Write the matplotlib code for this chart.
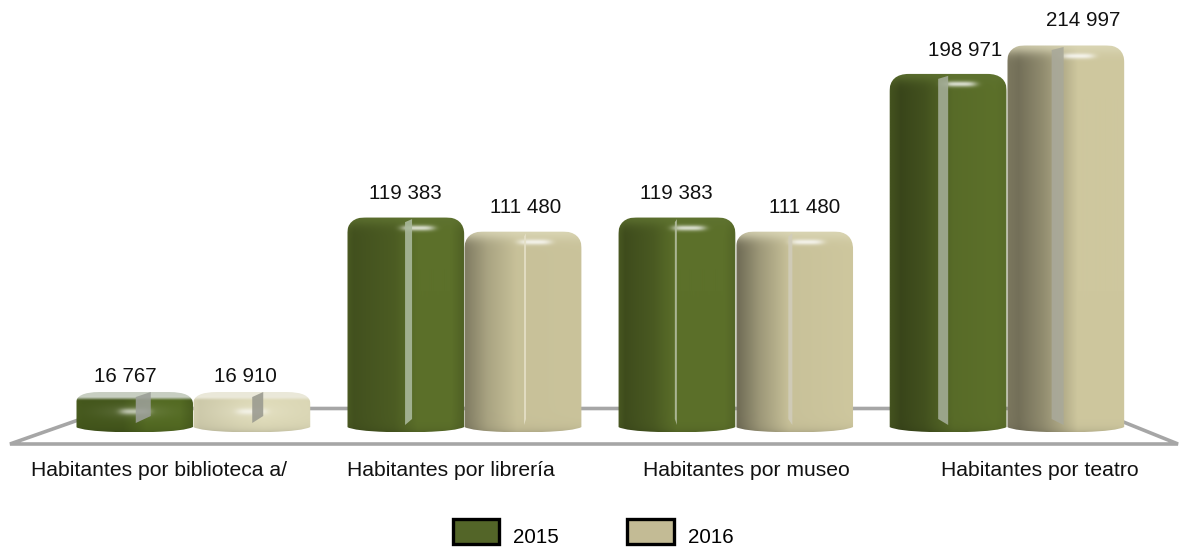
import numpy as np
import matplotlib
matplotlib.use("Agg")
import matplotlib.pyplot as plt
from matplotlib.path import Path
from matplotlib.patches import PathPatch, Polygon, Patch

plt.rcParams['font.family'] = ['Liberation Sans', 'DejaVu Sans']

categories = ["Habitantes por biblioteca a/", "Habitantes por librería",
              "Habitantes por museo", "Habitantes por teatro"]
series_names = ["2015", "2016"]
values_2015 = [16767, 119383, 119383, 198971]
values_2016 = [16910, 111480, 111480, 214997]

W, H = 1182, 549
PX_PER_CAT = 271.3
X0_PX = 193.0
Y0_PX = 432.0
PX_PER_VAL = 0.0018
BAR_W = 0.433
MIN_H_PX = 40

def xd(px): return (px - X0_PX) / PX_PER_CAT
def yd(py): return (Y0_PX - py) / PX_PER_VAL
def xp(x): return X0_PX + x * PX_PER_CAT
def yp(v): return Y0_PX - v * PX_PER_VAL

fig = plt.figure(figsize=(W / 100, H / 100), dpi=100)
ax = fig.add_axes([0, 0, 1, 1])
ax.axis("off")

# floor
floor = [(10, 444), (111, 408.5), (1090, 408.5), (1178, 444)]
ax.add_patch(Polygon([(xd(a), yd(b)) for a, b in floor], closed=True, fill=False,
                     edgecolor="#a6a6a6", lw=2.6, zorder=1))


def rgb(h):
    return np.array([int(h[i:i + 2], 16) for i in (1, 3, 5)]) / 255


COLS = {
    "2015": dict(main=rgb("#5c702a"), lid=rgb("#c8cfc2"), cap=rgb("#5f7331"), swatch="#536528",
                 body_small=rgb("#536a22"),
                 shade=[([0, .06, .4, .6, .88, 1], [.85, .82, .82, 1, 1, .85]),
                        ([0, .06, .4, .6, .88, 1], [.8, .72, .82, 1, 1, .85]),
                        ([0, .06, .3, .5, .9, 1], [.8, .68, .8, 1, 1, .9]),
                        ([0, .1, .3, .55, .9, 1], [.75, .62, .72, .96, 1, .95])]),
    "2016": dict(main=rgb("#cec79e"), lid=rgb("#ebe9da"), cap=rgb("#dcd8b8"), swatch="#c3bb95",
                 body_small=rgb("#dfdbb9"),
                 shade=[([0, .06, .4, .6, 1], [.95, .92, .98, 1, .98]),
                        ([0, .03, .2, .45, 1], [.62, .64, .82, .97, .98]),
                        ([0, .03, .2, .45, 1], [.55, .56, .76, .97, 1]),
                        ([0, .1, .3, .45, .6, 1], [.6, .56, .7, .84, 1, 1])]),
}
strip_w = {"2015": [15, 7, 2, 10], "2016": [11, 2, 4, 12]}
strip_off = {"2015": [9, 3, -1, -5], "2016": [6, 2, -4, -8]}
strip_col = {"2015": ["#9b9f97", "#a9b89b", "#b3bda0", "#a3ac96"],
             "2016": ["#9b9b90", "#e4dfc6", "#d0ccba", "#a9a99a"]}
foot_slant = [1, 1, -1, -1]
label_off = {"2015": [(-9, -15), (0, -24), (-1, -24), (17, -23)],
             "2016": [(-6, -15), (3, -24), (10, -24), (18, -25)]}


def bar_path(l, r, t, b, small):
    rx = 24 if small else 20
    ry = 12 if small else 18
    bot = 5
    P = [(l, b - bot), (l, t + ry), (l, t), (l + rx, t), (r - rx, t), (r, t), (r, t + ry),
         (r, b - bot), (r - 8, b - 1), (r - 40, b), (l + 40, b), (l + 8, b - 1), (l, b - bot), (l, b - bot)]
    C = [Path.MOVETO, Path.LINETO, Path.CURVE3, Path.CURVE3, Path.LINETO, Path.CURVE3, Path.CURVE3,
         Path.LINETO, Path.CURVE3, Path.CURVE3, Path.LINETO, Path.CURVE3, Path.CURVE3, Path.CLOSEPOLY]
    return Path([(xd(a), yd(c)) for a, c in P], C)


def texture(w, h, c, i, small):
    tt = (np.arange(w) + .5) / w
    yy = np.arange(h) + .5
    xs, sv = c["shade"][i]
    shade = np.interp(tt, xs, sv)
    img = np.ones((h, w, 4))
    base = c["body_small"] if small else c["main"]
    for k in range(3):
        img[:, :, k] = (base[k] * shade)[None, :]
    if small:
        vs = np.clip((yy - 6) / 3, 0, 1)[:, None]
        glow = np.exp(-((yy - 20) / 7) ** 2)[:, None] * np.exp(-((tt - .5) / .3) ** 2)[None, :]
        for k in range(3):
            img[:, :, k] += glow * (1 - img[:, :, k]) * .12
            img[:, :, k] = (1 - vs) * c["lid"][k] + vs * img[:, :, k]
        hl = np.exp(-((yy - 20) / 3) ** 2)[:, None] * np.exp(-(np.abs(tt - .5) / .13) ** 4)[None, :]
        amt = .6
    else:
        cap = np.exp(-(yy / 9) ** 2)[:, None]
        for k in range(3):
            img[:, :, k] = img[:, :, k] * (1 - .8 * cap) + .8 * cap * c["cap"][k]
        hl = np.exp(-((yy - 11) / 2.8) ** 2)[:, None] * np.exp(-(np.abs(tt - .6) / .14) ** 4)[None, :]
        amt = .75
    for k in range(3):
        img[:, :, k] += hl * (1 - img[:, :, k]) * amt
    foot = np.exp(-(h - yy) / 4)[:, None] * .12
    for k in range(3):
        img[:, :, k] = img[:, :, k] * (1 - foot)
    # soft edges
    px = np.arange(w) + .5
    ed = np.clip(np.minimum(px, w - px) / 1.2, .5, 1)
    img[:, :, 3] = ed[None, :] * np.clip(yy / 1.5, .5, 1)[:, None]
    return np.clip(img, 0, 1)


for si, (name, vals) in enumerate(zip(series_names, [values_2015, values_2016])):
    c = COLS[name]
    xs = np.arange(len(vals)) + (si - .5) * BAR_W
    bars = ax.bar(xs, vals, BAR_W, color="none", edgecolor="none", zorder=2 + si)
    for i, (rect, v) in enumerate(zip(bars, vals)):
        l = xp(rect.get_x())
        r = xp(rect.get_x() + rect.get_width())
        top_v = yp(v)
        small = Y0_PX - top_v < MIN_H_PX
        t = min(top_v, Y0_PX - MIN_H_PX)
        b = Y0_PX
        pth = bar_path(l, r, t, b, small)
        clip = PathPatch(pth, transform=ax.transData, fc="none", ec="none")
        ax.add_patch(clip)
        w, h = int(round(r - l)), int(round(b - t))
        im = ax.imshow(texture(w, h, c, i, small), extent=(xd(l), xd(r), yd(b), yd(t)),
                       aspect="auto", zorder=2.1 + si, interpolation="bilinear")
        im.set_clip_path(clip)
        # reflective strip
        cx = (l + r) / 2 + strip_off[name][i]
        sw = strip_w[name][i]
        s = foot_slant[i]
        if small:
            poly = [(cx - sw / 2, t + 5), (cx + sw / 2, t), (cx + sw / 2, b - 16), (cx - sw / 2, b - 9)]
        else:
            base_y = b - 10
            poly = [(cx - sw / 2, t + 5), (cx + sw / 2, t + 2),
                    (cx + sw / 2, base_y - 3 * s), (cx - sw / 2, base_y + 3 * s)]
        ax.add_patch(Polygon([(xd(a), yd(e)) for a, e in poly], closed=True, fc=strip_col[name][i],
                             ec="none", alpha=.9, zorder=2.2 + si))
        dx, dy = label_off[name][i]
        ax.annotate(f"{v:,}".replace(",", " "), (xd((l + r) / 2), yd(t)),
                    xytext=(dx * .72, -dy * .72), textcoords="offset points",
                    ha="center", va="center", fontsize=14.8, color="#111111", zorder=6)

for i, (cat, cx) in enumerate(zip(categories, [159, 451, 746, 1040])):
    ax.text(xd(cx), yd(471), cat, ha="center", va="center", fontsize=15.2, color="#111111", zorder=6)

handles = [Patch(fc=COLS[n]["swatch"], ec="black", lw=2.4, label=n) for n in series_names]
leg = ax.legend(handles=handles, ncol=2, loc="center", bbox_to_anchor=(xd(593), yd(531.5)),
                bbox_transform=ax.transData, frameon=False, fontsize=14.8,
                handlelength=2.25, handleheight=1.55, handletextpad=.68, columnspacing=3.35,
                borderpad=0, borderaxespad=0)
for tx in leg.get_texts():
    tx.set_y(-5)

ax.set_xlim(xd(0), xd(W))
ax.set_ylim(yd(H), yd(0))
fig.savefig("out.png", dpi=100)
